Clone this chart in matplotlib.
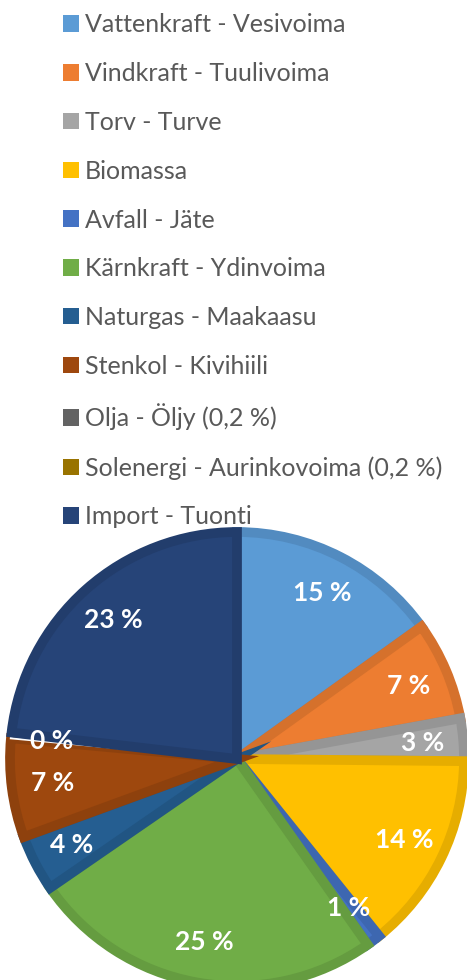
import matplotlib.pyplot as plt
from matplotlib.patches import Patch, Wedge
from matplotlib.colors import to_rgb

labels = [
    'Vattenkraft - Vesivoima',
    'Vindkraft - Tuulivoima',
    'Torv - Turve',
    'Biomassa',
    'Avfall - Jäte',
    'Kärnkraft - Ydinvoima',
    'Naturgas - Maakaasu',
    'Stenkol - Kivihiili',
    'Olja - Öljy (0,2 %)',
    'Solenergi - Aurinkovoima (0,2 %)',
    'Import - Tuonti',
]
shares = [15, 7, 3, 14, 1, 25, 4, 7, 0.2, 0.2, 23]
colors = ['#5B9BD5', '#ED7D31', '#A5A5A5', '#FFC000', '#4472C4', '#70AD47',
          '#255E91', '#9E480E', '#636363', '#997300', '#264478']

plt.rcParams['font.family'] = ['Lato', 'DejaVu Sans']

fig = plt.figure(figsize=(4.67, 9.8), dpi=100)

# pie axes: square box, centred low in the figure
ax = fig.add_axes([10 / 467, -6 / 980, 454 / 467, 454 / 980])


def fmt(p):
    return f'{p * sum(shares) / 100:.0f} %'


wedges, _, autotexts = ax.pie(
    shares, colors=colors, startangle=90, counterclock=False, radius=1,
    autopct=fmt, pctdistance=0.82,
    textprops=dict(color='white', fontsize=19, fontweight='bold'),
    wedgeprops=dict(linewidth=0),
)
ax.set_xlim(-1, 1)
ax.set_ylim(-1, 1)
ax.axis('off')

# the two tiny slices share one "0 %" label
autotexts[9].remove()

# darker inner rim on each slice for a bevelled look
for w, c, v in zip(wedges, colors, shares):
    if v < 1:
        w.set_edgecolor('white')
        w.set_linewidth(1.6)
        continue
    dark = tuple(x * 0.9 for x in to_rgb(c))
    w.set_edgecolor(dark)
    w.set_linewidth(7)
    clip = Wedge(w.center, w.r, w.theta1, w.theta2, transform=ax.transData)
    w.set_clip_path(clip)

handles = [Patch(facecolor=c, edgecolor='none') for c in colors]
fig.legend(handles, labels, loc='upper left', bbox_to_anchor=(45 / 467, 1 + 4 / 980),
           frameon=False, fontsize=18, labelcolor='#595959',
           handlelength=0.64, handleheight=0.64, handletextpad=0.25,
           labelspacing=1.03, borderpad=0.2)

fig.savefig('out.png', dpi=100)
